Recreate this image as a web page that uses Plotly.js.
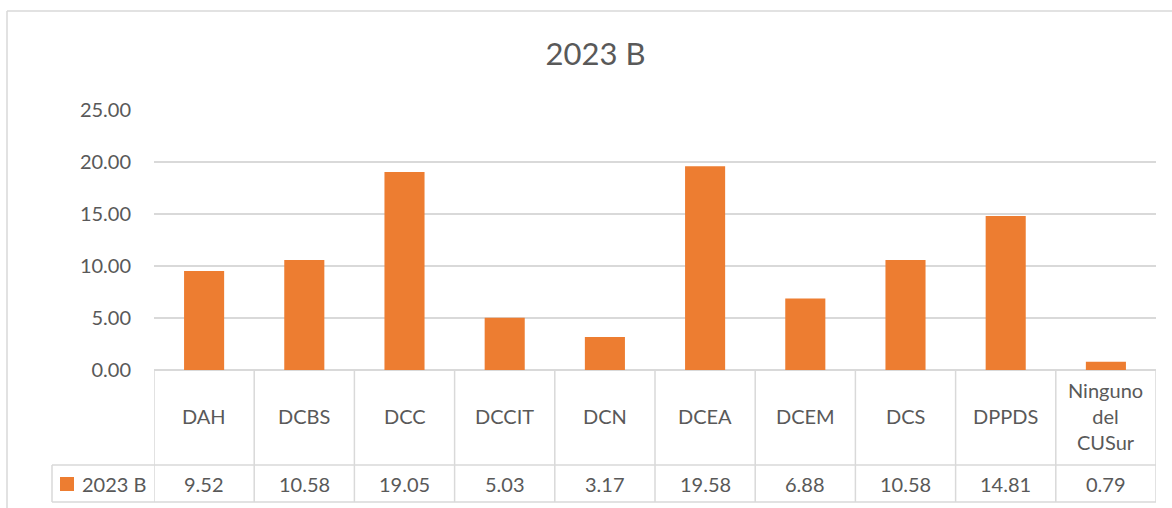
<!DOCTYPE html>
<html>
<head>
<meta charset="utf-8">
<script src="https://cdn.plot.ly/plotly-3.0.1.min.js"></script>
<style>html,body{margin:0;padding:0;background:#fff;}#chart{width:1172px;height:508px;}</style>
</head>
<body>
<div id="chart"></div>
<script>
const categories = ["DAH","DCBS","DCC","DCCIT","DCN","DCEA","DCEM","DCS","DPPDS","Ninguno<br>del<br>CUSur"];
const values = [9.52,10.58,19.05,5.03,3.17,19.58,6.88,10.58,14.81,0.79];
const seriesName = "2023 B";
const chartTitle = "2023 B";

const barColor = "#ED7D31";
const textColor = "#595959";
const lineColor = "#d9d9d9";
const fontFamily = "Lato, 'Open Sans', sans-serif";

// geometry helpers (paper coords of table rows)
const W = 1172, H = 508, L = 154, R = 16, T = 110, B = 138;
const pw = W - L - R, ph = H - T - B;
const py = px => (H - B - px) / ph;      // pixel y -> paper y
const pxX = px => (px - L) / pw;         // pixel x -> paper x

const rowMid = py(465), rowBot = py(502), tableLeft = pxX(52);

const shapes = [];
// outer chart border (left + top)
shapes.push({type:"line", xref:"paper", yref:"paper", x0:pxX(7), x1:pxX(7), y0:py(520), y1:py(11), line:{color:lineColor, width:1.5}});
shapes.push({type:"line", xref:"paper", yref:"paper", x0:pxX(7), x1:pxX(1180), y0:py(11), y1:py(11), line:{color:lineColor, width:1.5}});
// table horizontal lines
[rowMid, rowBot].forEach(y => shapes.push({type:"line", xref:"paper", yref:"paper", x0:tableLeft, x1:1, y0:y, y1:y, line:{color:lineColor, width:1.5}}));
// legend cell left edge
shapes.push({type:"line", xref:"paper", yref:"paper", x0:tableLeft, x1:tableLeft, y0:rowMid, y1:rowBot, line:{color:lineColor, width:1.5}});
// vertical cell separators between categories
for (let i = 0; i <= categories.length; i++) {
  shapes.push({type:"line", xref:"x", yref:"paper", x0:i-0.5, x1:i-0.5, y0:0, y1:rowBot, line:{color:lineColor, width:1.5}});
}
// legend key square
shapes.push({type:"rect", xref:"paper", yref:"paper", x0:pxX(60), x1:pxX(74), y0:py(491), y1:py(477), fillcolor:barColor, line:{width:0}});

const annotations = [];
categories.forEach((c, i) => {
  annotations.push({xref:"x", yref:"paper", x:i, y:py(416), text:c, showarrow:false, xanchor:"center", yanchor:"middle", align:"center", font:{family:fontFamily, size:20, color:textColor}});
  annotations.push({xref:"x", yref:"paper", x:i, y:py(483.5), text:values[i].toFixed(2), showarrow:false, xanchor:"center", yanchor:"middle", font:{family:fontFamily, size:20, color:textColor}});
});
annotations.push({xref:"paper", yref:"paper", x:pxX(80), y:py(483.5), text:seriesName, showarrow:false, xanchor:"left", yanchor:"middle", font:{family:fontFamily, size:20, color:textColor}});

const trace = {
  type:"bar",
  x: categories.map((c, i) => i),
  y: values,
  name: seriesName,
  marker:{color:barColor},
  hoverinfo:"y",
  showlegend:false
};

const layout = {
  width:W, height:H,
  margin:{l:L, r:R, t:T, b:B, pad:0},
  paper_bgcolor:"#ffffff", plot_bgcolor:"#ffffff",
  font:{family:fontFamily, color:textColor, size:20},
  title:{text:chartTitle, x:595.5/W, xanchor:"center", xref:"container", y:1-54/H, yanchor:"middle", yref:"container", font:{family:fontFamily, size:31, color:textColor}},
  bargap:0.6,
  xaxis:{type:"linear", range:[-0.5, categories.length-0.5], showticklabels:false, showgrid:false, zeroline:false, showline:false, ticks:""},
  yaxis:{range:[0,25], dtick:5, tick0:0, tickformat:".2f", showgrid:true, gridcolor:lineColor, gridwidth:1.5, zeroline:true, zerolinecolor:lineColor, zerolinewidth:1.5, showline:false, ticks:"", ticklabelstandoff:22, tickfont:{family:fontFamily, size:20, color:textColor}},
  shapes: shapes,
  annotations: annotations,
  showlegend:false
};

Plotly.newPlot("chart", [trace], layout, {staticPlot:true, displayModeBar:false});
</script>
</body>
</html>
